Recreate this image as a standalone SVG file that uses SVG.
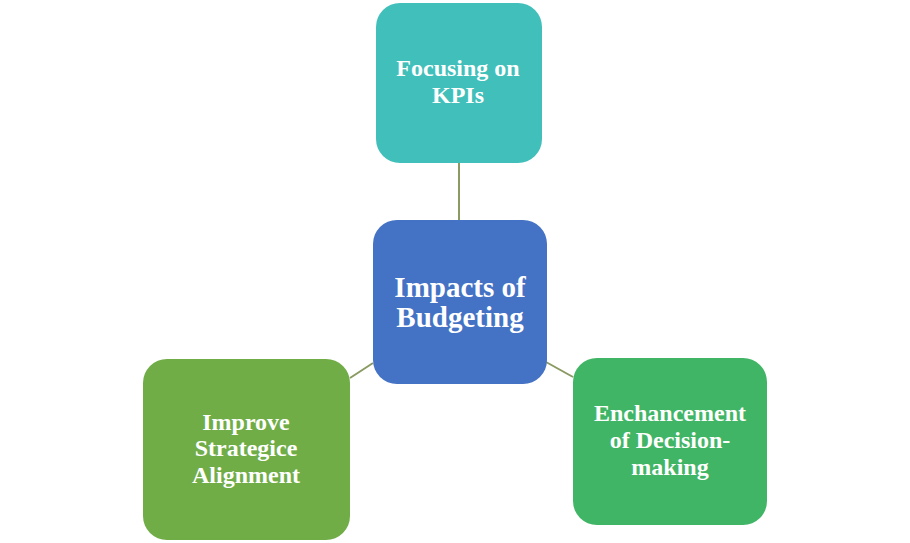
<svg xmlns="http://www.w3.org/2000/svg" width="910" height="543" viewBox="0 0 910 543">
<style>
.box{stroke:none}
.t{font-family:"Liberation Serif","Times New Roman",serif;font-weight:bold;fill:#ffffff;text-anchor:middle}
.s{font-size:24px}
.c{font-size:29px}
.conn{stroke:#8a9a62;stroke-width:2;fill:none}
</style>
<rect width="910" height="543" fill="#ffffff"/>
<g id="connectors">
<line class="conn" x1="459" y1="163" x2="459" y2="220"/>
<line class="conn" x1="350" y1="378" x2="373" y2="363"/>
<line class="conn" x1="546" y1="362" x2="573" y2="377"/>
</g>
<g id="node-kpis">
<rect class="box" x="376" y="3" width="166" height="160" rx="24" fill="#41bfba"/>
<text class="t s" x="458" y="76">Focusing on</text>
<text class="t s" x="458" y="103">KPIs</text>
</g>
<g id="node-center">
<rect class="box" x="373" y="220" width="174" height="164" rx="24" fill="#4472c4"/>
<text class="t c" x="460" y="297">Impacts of</text>
<text class="t c" x="460" y="327">Budgeting</text>
</g>
<g id="node-strategic">
<rect class="box" x="143" y="359" width="207" height="181" rx="24" fill="#70ad47"/>
<text class="t s" x="246" y="430">Improve</text>
<text class="t s" x="246" y="456">Strategice</text>
<text class="t s" x="246" y="483">Alignment</text>
</g>
<g id="node-decision">
<rect class="box" x="573" y="358" width="194" height="167" rx="24" fill="#41b566"/>
<text class="t s" x="670" y="421">Enchancement</text>
<text class="t s" x="670" y="448">of Decision-</text>
<text class="t s" x="670" y="475">making</text>
</g>
</svg>
